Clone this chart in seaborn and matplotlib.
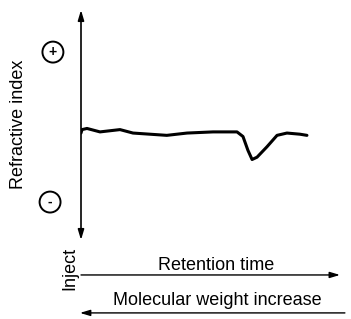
import pandas as pd
import matplotlib.pyplot as plt
import seaborn as sns

# trace (retention time in % of the axis, detector signal -1..1)
time = [0.0, 0.4, 2.3, 7.3, 15.0, 20.0, 33.0, 40.8, 50.8, 60.0, 62.3, 64.2, 65.8,
        67.7, 71.5, 75.4, 79.2, 84.2, 86.9]
signal = [-0.07, -0.04, -0.03, -0.06, -0.04, -0.07, -0.09, -0.07, -0.06, -0.06, -0.10,
          -0.22, -0.30, -0.28, -0.19, -0.09, -0.07, -0.08, -0.09]

y_label = "Refractive index"
x_label = "Retention time"
mw_label = "Molecular weight increase"
inject_label = "Inject"

df = pd.DataFrame({"time": time, "signal": signal})

sns.set_style("white")
plt.rcParams["font.family"] = ["Liberation Sans", "DejaVu Sans"]
plt.rcParams["text.color"] = "black"

fig = plt.figure(figsize=(3.51, 3.19), dpi=100)
ax = fig.add_axes([81 / 351, 79 / 319, 260 / 351, 230 / 319])

sns.lineplot(data=df, x="time", y="signal", ax=ax, color="black", linewidth=2.2)
ax.set_xlim(0, 100)
ax.set_ylim(-1, 1)
ax.set_xticks([])
ax.set_yticks([])
ax.set_xlabel("")
ax.set_ylabel("")
for s in ax.spines.values():
    s.set_visible(False)

arrow = dict(arrowstyle="<|-|>,head_length=0.6,head_width=0.18", color="black", lw=1.2,
             shrinkA=0, shrinkB=0)
ax.annotate("", xy=(0, 1.0), xytext=(0, 0.0), xycoords="axes fraction",
            arrowprops=arrow, annotation_clip=False)

right = dict(arrowstyle="-|>,head_length=0.6,head_width=0.18", color="black", lw=1.0,
             shrinkA=0, shrinkB=0)
ax.annotate("", xy=(0.996, -0.152), xytext=(0.0, -0.152), xycoords="axes fraction",
            arrowprops=right, annotation_clip=False)
ax.annotate("", xy=(-0.004, -0.317), xytext=(1.015, -0.317), xycoords="axes fraction",
            arrowprops=right, annotation_clip=False)

ax.text(0.519, -0.109, x_label, transform=ax.transAxes, ha="center", va="center", fontsize=13)
ax.text(0.523, -0.262, mw_label, transform=ax.transAxes, ha="center", va="center", fontsize=13)
ax.text(-0.242, 0.504, y_label, transform=ax.transAxes, ha="center", va="center",
        rotation=90, fontsize=13)
ax.text(-0.042, -0.122, inject_label, transform=ax.transAxes, ha="center", va="center",
        rotation=90, fontsize=13)

circ = dict(boxstyle="circle,pad=0.25", fc="white", ec="black", lw=1.4)
ax.text(-0.108, 0.817, "+", transform=ax.transAxes, ha="center", va="center",
        fontsize=10, fontweight="bold", bbox=circ)
ax.text(-0.119, 0.165, "-", transform=ax.transAxes, ha="center", va="center",
        fontsize=10, fontweight="bold", bbox=circ)

fig.savefig("out.png", dpi=100)
